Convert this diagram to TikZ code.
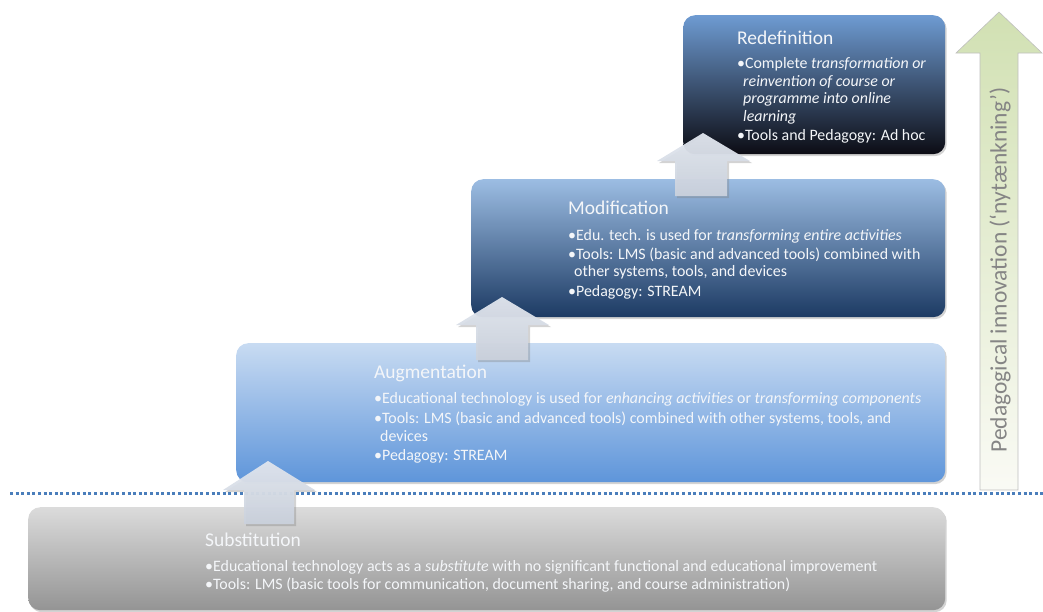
\documentclass[tikz,border=0pt]{standalone}
\usepackage{fontspec}
\setmainfont{Carlito}
\usetikzlibrary{shadows}
\definecolor{txt}{HTML}{F4F6F9}
\definecolor{dotblue}{HTML}{4A7EBB}
\definecolor{arrfill}{HTML}{D5DCE8}
\definecolor{innov}{HTML}{858585}
\tikzset{
  stage/.style={draw=none, rounded corners=12pt, anchor=north west, inner sep=0pt,
    drop shadow={opacity=0.35, shadow xshift=1.5pt, shadow yshift=-2pt}},
  ttl/.style={anchor=base west, inner sep=0pt, text=txt, font=\fontsize{19.5}{22}\selectfont},
  bod/.style={anchor=base west, inner sep=0pt, text=txt, font=\fontsize{15.9}{18}\selectfont},
  uparrow/.style={top color=arrfill!70!white, bottom color=arrfill!95!black, opacity=0.95,
    drop shadow={opacity=0.35, shadow xshift=2pt, shadow yshift=-2pt}},
  greenarrow/.style={draw=black!25, line width=0.6pt, top color=green!20!olive!30!white, bottom color=green!5!olive!4!white}
}
\begin{document}
\begin{tikzpicture}[x=1pt,y=-1pt]
\useasboundingbox (0,0) rectangle (1043,611);
% stage boxes
\node[stage, minimum width=917pt, minimum height=103pt, top color=black!14, bottom color=black!42] (subst) at (28,507) {};
\node[stage, minimum width=709pt, minimum height=139pt, top color={rgb,255:red,200;green,219;blue,242}, bottom color={rgb,255:red,94;green,149;blue,218}] (augm) at (236,343) {};
\node[stage, minimum width=474pt, minimum height=138pt, top color={rgb,255:red,156;green,189;blue,227}, middle color={rgb,255:red,88;green,130;blue,183}, bottom color={rgb,255:red,28;green,58;blue,99}] (modif) at (471,179) {};
\node[stage, minimum width=262pt, minimum height=139pt, top color={rgb,255:red,110;green,155;blue,210}, middle color={rgb,255:red,42;green,70;blue,108}, bottom color={rgb,255:red,12;green,12;blue,20}] (redef) at (683,15) {};
% dotted line
\coordinate (dl) at (10,493);
\coordinate (dr) at (1043,493);
\draw[dotblue, line width=3pt, dash pattern=on 3pt off 2.6pt] (dl) -- (dr);
% green arrow
\path[greenarrow] (999,12) -- (1042,53) -- (1018,53) -- (1018,490) -- (980,490) -- (980,53) -- (956,53) -- cycle;
\node[rotate=90, text=innov, font=\fontsize{23.5}{26}\selectfont, inner sep=0pt] (innovation) at (1000,270) {Pedagogical innovation (‘nytænkning’)};
% up arrows
\path[uparrow] (268,461) -- (315,490) -- (294,490) -- (294,524) -- (244,524) -- (244,490) -- (223,490) -- cycle;
\path[uparrow] (502,297) -- (549,325) -- (528,325) -- (528,360) -- (476,360) -- (476,325) -- (456,325) -- cycle;
\path[uparrow] (703,133) -- (750,161) -- (727,161) -- (727,196) -- (675,196) -- (675,161) -- (657,161) -- cycle;
% Redefinition text
\node[ttl] (rt) at (737,44) {Redefinition};
\node[bod] (r1) at (737,68) {•Complete \textit{transformation or}};
\node[bod] (r2) at (743,86) {\textit{reinvention of course or}};
\node[bod] (r3) at (743,103) {\textit{programme into online}};
\node[bod] (r4) at (743,121) {\textit{learning}};
\node[bod] (r5) at (737,140) {•Tools and Pedagogy: Ad hoc};
% Modification text
\node[ttl] (mt) at (568,214) {Modification};
\node[bod] (m1) at (568,240) {•Edu. tech. is used for \textit{transforming entire activities}};
\node[bod] (m2) at (568,259) {•Tools: LMS (basic and advanced tools) combined with};
\node[bod] (m3) at (574,276) {other systems, tools, and devices};
\node[bod] (m4) at (568,296) {•Pedagogy: STREAM};
% Augmentation text
\node[ttl] (at) at (374,378) {Augmentation};
\node[bod] (a1) at (374,403) {•Educational technology is used for \textit{enhancing activities} or \textit{transforming components}};
\node[bod] (a2) at (374,423) {•Tools: LMS (basic and advanced tools) combined with other systems, tools, and};
\node[bod] (a3) at (380,441) {devices};
\node[bod] (a4) at (374,460) {•Pedagogy: STREAM};
% Substitution text
\node[ttl] (st) at (205,546) {Substitution};
\node[bod] (s1) at (205,571) {•Educational technology acts as a \textit{substitute} with no significant functional and educational improvement};
\node[bod] (s2) at (205,589) {•Tools: LMS (basic tools for communication, document sharing, and course administration)};
\end{tikzpicture}
\end{document}
